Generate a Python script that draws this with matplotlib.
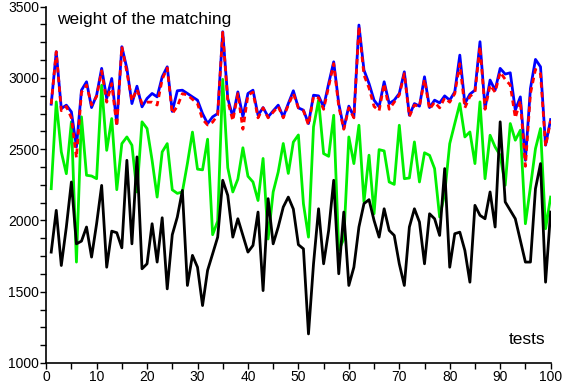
import matplotlib.pyplot as plt
import numpy as np

plt.rcParams['font.family'] = ['Liberation Sans', 'DejaVu Sans']

tests = np.arange(1, 101)

blue = [2816, 3184, 2785, 2809, 2762, 2516, 2914, 2973, 2792, 2879,
        3067, 2856, 2996, 2680, 3219, 3067, 2820, 2942, 2797, 2856,
        2891, 2867, 3008, 3078, 2765, 2910, 2914, 2891, 2867, 2844,
        2750, 2680, 2727, 2750, 3324, 2856, 2727, 2902, 2727, 2891,
        2914, 2738, 2792, 2727, 2769, 2809, 2727, 2820, 2910, 2790,
        2774, 2680, 2879, 2874, 2797, 2961, 3113, 2820, 2645, 2802,
        2727, 3371, 3055, 2961, 2844, 2797, 2973, 2820, 2844, 2891,
        3043, 2738, 2820, 2802, 3008, 2792, 2844, 2825, 2874, 2844,
        2902, 3160, 2820, 2886, 2914, 3254, 2785, 2985, 2914, 3067,
        3027, 3036, 2774, 2867, 2422, 2926, 3130, 3078, 2528, 2708]

red = [2816, 3184, 2770, 2800, 2720, 2440, 2900, 2950, 2810, 2870,
       3050, 2830, 2960, 2660, 3220, 3040, 2840, 2920, 2820, 2830,
       2830, 2810, 2990, 3070, 2750, 2800, 2890, 2880, 2850, 2820,
       2710, 2670, 2690, 2740, 3320, 2840, 2700, 2890, 2640, 2880,
       2900, 2720, 2790, 2720, 2760, 2800, 2720, 2810, 2890, 2790,
       2770, 2670, 2870, 2860, 2780, 2940, 3100, 2800, 2640, 2790,
       2720, 3360, 3020, 2930, 2800, 2770, 2960, 2780, 2830, 2880,
       3030, 2730, 2810, 2800, 2990, 2780, 2830, 2790, 2860, 2830,
       2890, 3100, 2790, 2870, 2900, 3220, 2780, 2950, 2900, 3040,
       2990, 2950, 2720, 2840, 2380, 2890, 3060, 3030, 2520, 2700]

green = [2223, 2832, 2481, 2328, 2692, 1708, 2727, 2317, 2312, 2293,
         2949, 2492, 2715, 2216, 2539, 2586, 2528, 2200, 2692, 2645,
         2422, 2164, 2481, 2539, 2215, 2190, 2200, 2400, 2620, 2360,
         2355, 2570, 1900, 1995, 2990, 2370, 2200, 2290, 2510, 2310,
         2270, 2140, 2435, 1870, 2200, 2340, 2540, 2330, 2550, 2600,
         2117, 1883, 2657, 2844, 2469, 2450, 2738, 1790, 1870, 2586,
         2399, 2668, 2130, 2458, 2047, 2497, 2488, 2270, 2253, 2668,
         2293, 2298, 2551, 2270, 2475, 2457, 2364, 2024, 2188, 2539,
         2680, 2820, 2586, 2621, 2399, 2832, 2293, 2598, 2516, 2457,
         2247, 2680, 2563, 2633, 1977, 2235, 2504, 2645, 1942, 2164]

black = [1778, 2071, 1684, 1954, 2270, 1836, 1855, 1954, 1743, 1977,
         2246, 1672, 1925, 1914, 1808, 2422, 1836, 2446, 1661, 1696,
         1977, 1708, 2019, 1520, 1900, 2024, 2211, 1544, 1755, 1672,
         1403, 1650, 1766, 1883, 2282, 2176, 1883, 2012, 1895, 1778,
         1825, 2059, 1508, 2153, 1836, 1954, 2094, 2164, 2080, 1830,
         1801, 1204, 1696, 2082, 1696, 1930, 2282, 1626, 2059, 1544,
         1672, 1954, 2118, 2146, 2000, 1883, 2082, 1930, 1895, 1696,
         1544, 1954, 2082, 1989, 1696, 2047, 2012, 1895, 2364, 1672,
         1907, 1918, 1790, 1567, 2106, 2036, 2012, 2200, 1954, 2692,
         2130, 2071, 2012, 1860, 1708, 1708, 2223, 2399, 1567, 2059]

fig = plt.figure(figsize=(5.63, 3.92), dpi=100)
ax = fig.add_axes([0.082, 0.074, 0.896, 0.909])

ax.plot(tests, green, color='#00f000', lw=2)
ax.plot(tests, black, color='black', lw=2)
ax.plot(tests, blue, color='#0000ff', lw=2)
ax.plot(tests, red, color='#ff0000', lw=2, ls=(0, (2, 1.5)))

ax.set_xlim(0, 100)
ax.set_ylim(1000, 3500)
ax.set_xticks(range(0, 101, 10))
ax.set_xticks(range(0, 101, 5), minor=True)
ax.set_yticks(range(1000, 3501, 500))
ax.set_yticks(range(1000, 3501, 125), minor=True)
ax.tick_params(which='both', direction='out', length=4, width=1, labelsize=10, pad=1)

for s in ['top', 'right']:
    ax.spines[s].set_visible(False)
ax.spines['left'].set_linewidth(1.2)
ax.spines['bottom'].set_linewidth(1.2)

ax.text(0.022, 0.985, 'weight of the matching', transform=ax.transAxes,
        fontsize=12.5, va='top', ha='left')
ax.text(0.99, 0.045, 'tests', transform=ax.transAxes,
        fontsize=12.5, va='bottom', ha='right')

fig.savefig('out.png', dpi=100)
